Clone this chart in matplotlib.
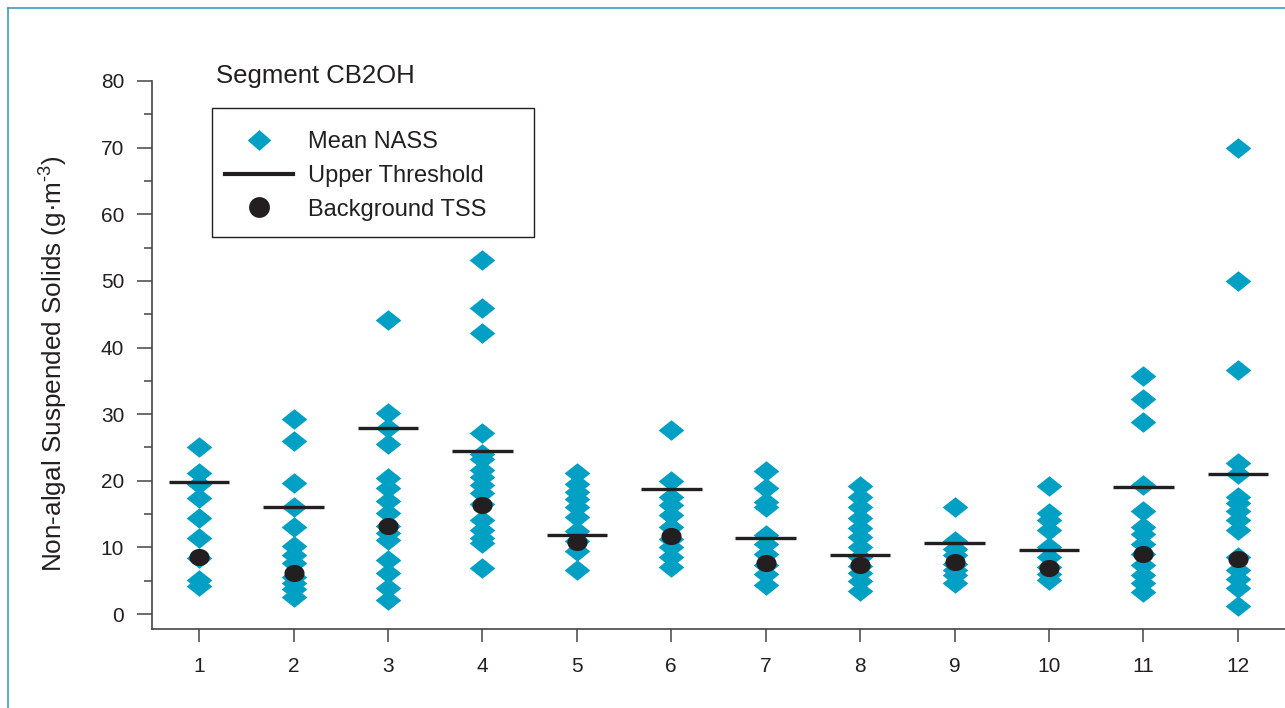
import numpy as np
import matplotlib
matplotlib.use("Agg")
import matplotlib.pyplot as plt
from matplotlib.path import Path
from matplotlib.lines import Line2D
from matplotlib.patches import Rectangle

plt.rcParams['font.family'] = ['Liberation Sans', 'DejaVu Sans']
plt.rcParams['mathtext.fontset'] = 'custom'
plt.rcParams['mathtext.rm'] = 'Liberation Sans'
plt.rcParams['mathtext.it'] = 'Liberation Sans:italic'
plt.rcParams['mathtext.bf'] = 'Liberation Sans:bold'

segments = [1, 2, 3, 4, 5, 6, 7, 8, 9, 10, 11, 12]
tick_labels = ["1", "2", "3", "4", "5", "6", "7", "8", "9", "10", "11", "12"]

nass_1 = [25.0, 21.1, 19.5, 17.4, 14.4, 11.4, 8.4, 5.1, 4.2]
nass_2 = [29.2, 26.0, 19.6, 16.0, 13.0, 10.2, 8.9, 7.6, 5.5, 4.6, 3.8, 2.5]
nass_3 = [44.2, 30.2, 27.9, 25.5, 20.4, 18.9, 16.9, 15.1, 13.2, 12.1, 11.1, 8.1, 6.1, 3.9, 2.1]
nass_4 = [53.1, 45.9, 42.2, 27.1, 24.0, 23.3, 21.6, 20.6, 19.4, 18.1, 16.5, 14.1, 12.6, 11.4, 10.6, 6.9]
nass_5 = [21.2, 19.5, 18.3, 17.2, 16.0, 14.6, 12.5, 11.0, 9.5, 6.6]
nass_6 = [27.6, 19.9, 17.6, 16.3, 14.9, 13.1, 11.2, 10.1, 8.6, 7.1]
nass_7 = [21.4, 18.9, 16.8, 16.0, 11.9, 10.5, 9.0, 7.4, 6.0, 4.3]
nass_8 = [19.2, 17.6, 16.1, 14.4, 12.9, 11.6, 10.1, 8.6, 7.2, 6.1, 4.9, 3.4]
nass_9 = [16.0, 11.0, 9.8, 8.8, 7.5, 6.6, 5.8, 4.6]
nass_10 = [19.2, 15.1, 14.1, 12.6, 10.0, 8.5, 7.0, 6.0, 5.1]
nass_11 = [35.7, 32.2, 28.8, 19.3, 15.4, 13.1, 12.0, 10.5, 9.0, 7.4, 5.8, 4.6, 3.3]
nass_12 = [69.9, 50.0, 36.6, 22.7, 21.0, 17.6, 16.6, 15.4, 14.1, 12.6, 8.6, 6.6, 5.3, 3.9, 1.2]
nass = [nass_1, nass_2, nass_3, nass_4, nass_5, nass_6,
        nass_7, nass_8, nass_9, nass_10, nass_11, nass_12]

upper_threshold = [19.8, 16.0, 27.9, 24.4, 11.8, 18.7, 11.4, 8.8, 10.6, 9.6, 19.1, 21.0]
background_tss = [8.6, 6.2, 13.2, 16.3, 10.8, 11.7, 7.7, 7.3, 7.8, 6.9, 9.0, 8.3]

TEAL = '#00a0c4'
DARK = '#231f20'

diamond = Path([(-1, 0), (0, 0.8), (1, 0), (0, -0.8), (-1, 0)],
               [Path.MOVETO, Path.LINETO, Path.LINETO, Path.LINETO, Path.CLOSEPOLY])
leg_diamond = Path([(-1, 0), (0, 0.88), (1, 0), (0, -0.88), (-1, 0)],
                   [Path.MOVETO, Path.LINETO, Path.LINETO, Path.LINETO, Path.CLOSEPOLY])
t = np.linspace(0, 2 * np.pi, 60)
ellipse = Path(np.column_stack([np.cos(t), 0.85 * np.sin(t)]), closed=True)

W, H = 1285, 708
fig = plt.figure(figsize=(W / 100, H / 100), dpi=100)
ax = fig.add_axes([152 / W, (H - 629) / H, (W - 152) / W, (629 - 81) / H])

for s, vals in zip(segments, nass):
    ax.plot([s] * len(vals), vals, linestyle='none', marker=diamond,
            markersize=18.5, color=TEAL, markeredgewidth=0, zorder=2)

ax.plot(segments, background_tss, linestyle='none', marker=ellipse,
        markersize=14.5, color=DARK, markeredgewidth=0, zorder=3)
ax.hlines(upper_threshold, np.array(segments) - 0.32, np.array(segments) + 0.32,
          color=DARK, linewidth=2.4, zorder=4)

ax.set_xlim(0.5, 12.5)
ax.set_ylim(-2.25, 80)
ax.set_xticks(segments)
ax.set_xticklabels(tick_labels)
ax.set_yticks(np.arange(0, 81, 10))
ax.set_yticks(np.arange(5, 80, 10), minor=True)

for side in ['top', 'right']:
    ax.spines[side].set_visible(False)
for side in ['left', 'bottom']:
    ax.spines[side].set_color('#444444')
    ax.spines[side].set_linewidth(1.2)

ax.tick_params(axis='y', which='major', direction='out', length=11, width=1.1,
               color='#444444', labelsize=15, labelcolor=DARK, pad=9)
ax.tick_params(axis='y', which='minor', direction='out', length=5.5, width=1.1,
               color='#444444')
ax.tick_params(axis='x', which='major', direction='out', length=9, width=1.1,
               color='#444444', labelsize=15, labelcolor=DARK, pad=11)

fig.text(54 / W, 1 - 364 / H, 'Non-algal Suspended Solids (g·m$^{\\text{-}3}$)',
         rotation=90, ha='center', va='center', fontsize=18.8, color=DARK)
fig.text(216 / W, 1 - 76 / H, 'Segment CB2OH', ha='left', va='center',
         fontsize=18.5, color=DARK)

handles = [
    Line2D([], [], linestyle='none', marker=leg_diamond, markersize=17, color=TEAL,
           markeredgewidth=0),
    Line2D([], [], color=DARK, linewidth=3),
    Line2D([], [], linestyle='none', marker='o', markersize=15, color=DARK,
           markeredgewidth=0),
]
labels = ['Mean NASS', 'Upper Threshold', 'Background TSS']
leg = fig.legend(handles, labels, loc='upper left',
                 bbox_to_anchor=(212 / W, 1 - 118 / H), borderaxespad=0,
                 fontsize=17, frameon=False, handlelength=2.9, handletextpad=0.6,
                 borderpad=0.55, labelspacing=0.5)
for txt in leg.get_texts():
    txt.set_color(DARK)
fig.add_artist(Rectangle((212 / W, 1 - 237 / H), (534 - 212) / W, (237 - 108) / H,
                         transform=fig.transFigure, facecolor='none',
                         edgecolor=DARK, linewidth=1.0))

border = '#3a9cbf'
fig.add_artist(Line2D([8 / W, 8 / W], [0, 1 - 8 / H], color=border, linewidth=1.2,
                      transform=fig.transFigure))
fig.add_artist(Line2D([8 / W, 1], [1 - 8 / H, 1 - 8 / H], color=border, linewidth=1.2,
                      transform=fig.transFigure))

fig.savefig('out.png', dpi=100)
